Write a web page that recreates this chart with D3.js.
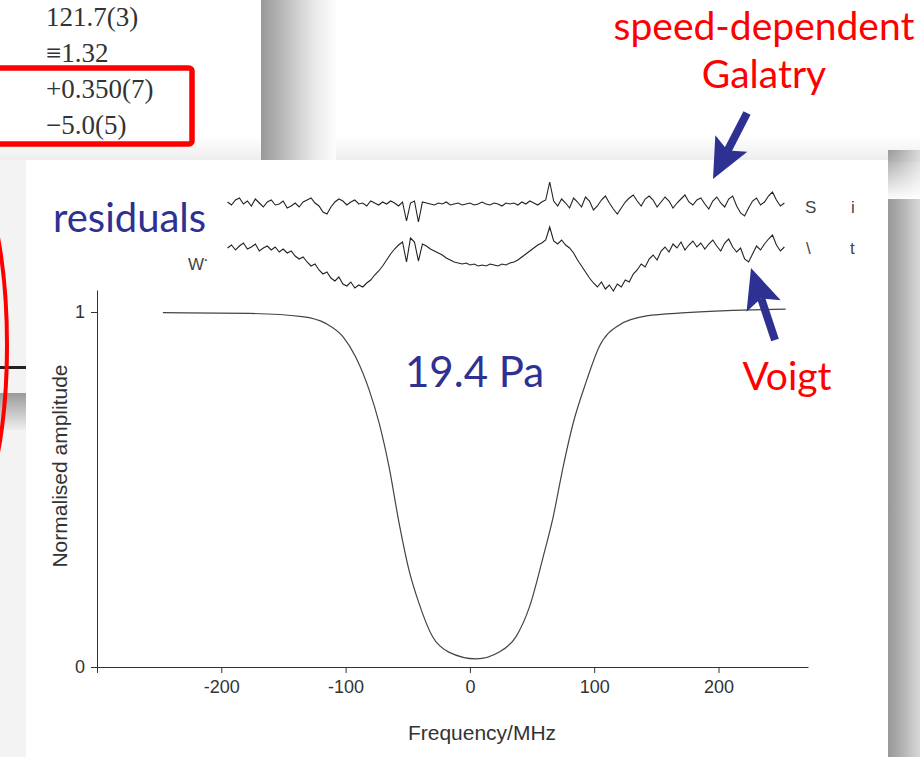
<!DOCTYPE html>
<html>
<head>
<meta charset="utf-8">
<script src="https://cdn.jsdelivr.net/npm/d3@7"></script>
<style>
  body { margin: 0; background: #fff; }
  svg { display: block; }
</style>
</head>
<body>
<div id="chart"></div>
<script>
// absorption profile (MHz, normalised amplitude)
var profileFreq = [-247, -177, -135, -116, -102, -92, -81, -73, -65, -57, -49, -41, -30, -17, 5,
                   24, 37, 48, 59, 67, 75, 83, 94, 104, 120, 142, 174, 227, 254];
var profileAmp  = [0.998, 0.996, 0.987, 0.968, 0.930, 0.874, 0.780, 0.687, 0.563, 0.406, 0.273, 0.180, 0.085, 0.042, 0.023,
                   0.043, 0.085, 0.170, 0.311, 0.423, 0.564, 0.686, 0.808, 0.902, 0.963, 0.989, 0.998, 1.006, 1.008];

// residuals (arbitrary units), one sample every 3.2 MHz starting at -195 MHz
var residStart = -195, residStep = 3.2;
var residSDG = [2, -1, 4, 6, 0, 3, -2, 5, 1, -3, 2, 4, -1, 0, 3, -4, -2, 1, -3, 2,
                4, 6, 1, -2, -8, -10, -3, 2, 5, 3, -1, 2, 4, 0, 1, -2, 3, 1, -1, 2,
                0, 3, 1, -2, 2, -17, 1, 3, -18, 2, 1, 0, -1, 1, 0, 2, -1, 0, 1, -1,
                0, 1, -1, 0, 2, 0, -1, 1, 0, -2, 1, 0, 1, -1, 2, 0, 3, 1, -1, 2,
                4, 22, 3, -2, 5, 1, -4, 6, 2, -3, 7, 3, -6, -2, 4, 8, 1, -5, -10, -4,
                2, 6, 9, 3, -2, 5, 8, 4, -3, 2, 7, 3, -4, 1, 5, 9, 2, -1, 4, 6,
                0, -5, 3, 7, 1, -3, 5, 8, -2, -9, -12, -4, 3, 6, -1, 2, 8, 12, 4, -2,
                1];
var residVoigt = [8, 11, 6, 10, 13, 7, 9, 12, 5, 8, 10, 6, 9, 4, 7, 3, 5, 0, -3, -1,
                  -6, -10, -8, -14, -18, -16, -22, -25, -21, -28, -30, -26, -32, -29, -31, -27, -24, -19, -15, -10,
                  -4, 2, 7, 11, 14, -6, 18, 14, -5, 12, 10, 7, 5, 3, 1, -2, -4, -6, -7, -8,
                  -7, -9, -8, -10, -9, -10, -8, -9, -10, -8, -9, -7, -6, -4, -1, 2, 5, 8, 11, 13,
                  16, 29, 15, 12, 16, 11, 8, 3, -4, -10, -16, -22, -27, -31, -26, -33, -29, -35, -28, -31,
                  -24, -26, -18, -14, -8, -11, -3, 1, -4, 5, 9, 4, 12, 8, 14, 6, 11, 15, 9, 13,
                  7, 12, 16, 10, 5, 13, 17, 9, 4, 8, -3, -6, 2, 10, 6, 12, 17, 21, 11, 5,
                  9];

var xTicks = [-300, -200, -100, 0, 100, 200];
var yTicks = [0, 1];

// table values shown in the slide corner
var tableRows = ["121.7(3)", "\u22611.32", "+0.350(7)", "\u22125.0(5)"];

var W = 920, H = 757;
var navy = "#2e3192", red = "#ff0000", ink = "#333";

var svg = d3.select("#chart").append("svg")
    .attr("width", W)
    .attr("height", H);

var defs = svg.append("defs");
function grad(id, stops, vertical) {
  var g = defs.append("linearGradient").attr("id", id)
      .attr("x1", 0).attr("y1", 0)
      .attr("x2", vertical ? 0 : 1).attr("y2", vertical ? 1 : 0);
  stops.forEach(function(s) {
    g.append("stop").attr("offset", s[0]).attr("stop-color", s[1]);
  });
}
grad("shadowR", [[0, "#989898"], [0.25, "#b4b4b4"], [0.5, "#d2d2d2"], [0.75, "#ececec"], [1, "#fdfdfd"]]);
grad("shadowR2", [[0, "#999"], [0.35, "#acacac"], [0.7, "#c4c4c4"], [1, "#d8d8d8"]]);
grad("shadowTop", [[0, "#ffffff"], [1, "#ececec"]], true);
grad("shadowFade", [[0, "#ffffff"], [1, "#000000"]], true);
grad("shadowBand", [[0, "#9a9a9a"], [1, "#eeeeee"]], true);
var mask = defs.append("mask").attr("id", "fadeMask");
mask.append("rect").attr("x", 888).attr("y", 150).attr("width", 32).attr("height", 50)
    .attr("fill", "url(#shadowFade)");

// slide background pieces
svg.append("rect").attr("width", W).attr("height", H).attr("fill", "#fff");
svg.append("rect").attr("x", 0).attr("y", 136).attr("width", 920).attr("height", 26)
    .attr("fill", "url(#shadowTop)");
svg.append("rect").attr("x", 261).attr("y", 0).attr("width", 75).attr("height", 162)
    .attr("fill", "url(#shadowR)");
svg.append("rect").attr("x", 0).attr("y", 160).attr("width", 26).attr("height", H - 160)
    .attr("fill", "#f3f3f3");
svg.append("rect").attr("x", 0).attr("y", 393).attr("width", 26).attr("height", 37)
    .attr("fill", "url(#shadowBand)");
svg.append("rect").attr("x", 0).attr("y", 366).attr("width", 26).attr("height", 3)
    .attr("fill", "#222");
// right-hand shadow of the chart panel, fading in at the top corner
var rightShadow = svg.append("g");
rightShadow.append("rect").attr("x", 888).attr("y", 150).attr("width", 32).attr("height", 50)
    .attr("fill", "url(#shadowR2)").attr("mask", "url(#fadeMask)");
rightShadow.append("rect").attr("x", 888).attr("y", 199).attr("width", 32).attr("height", H - 199)
    .attr("fill", "url(#shadowR2)");

// table fragment
var tableY = [26, 62, 98, 134];
svg.selectAll(".trow").data(tableRows).enter().append("text")
    .attr("class", "trow")
    .attr("x", 46)
    .attr("y", function(d, i) { return tableY[i]; })
    .attr("font-family", "Liberation Serif, serif")
    .attr("font-size", 27)
    .attr("fill", "#333")
    .text(function(d) { return d; });
svg.append("rect").attr("x", -10).attr("y", 68).attr("width", 202).attr("height", 76)
    .attr("rx", 3).attr("fill", "none").attr("stroke", red).attr("stroke-width", 5.5);

// red ellipse at far left
svg.append("ellipse").attr("cx", -60).attr("cy", 345).attr("rx", 67).attr("ry", 213)
    .attr("fill", "none").attr("stroke", red).attr("stroke-width", 4);

// chart panel
svg.append("rect").attr("x", 26).attr("y", 160).attr("width", 862).attr("height", H - 160)
    .attr("fill", "#fff");

var x = d3.scaleLinear().domain([-300, 272]).range([97, 808]);
var y = d3.scaleLinear().domain([0, 1.062]).range([667, 290]);

var xAxis = svg.append("g")
    .attr("transform", "translate(0," + y(0) + ")")
    .call(d3.axisBottom(x).tickValues(xTicks).tickSize(6).tickSizeOuter(0).tickPadding(7)
      .tickFormat(function(d) { return d === -300 ? "" : d; }));
var yAxis = svg.append("g")
    .attr("transform", "translate(" + x(-300) + ",0)")
    .call(d3.axisLeft(y).tickValues(yTicks).tickSize(6).tickSizeOuter(0).tickPadding(6)
      .tickFormat(d3.format("d")));

[xAxis, yAxis].forEach(function(a) {
  a.selectAll("path, line").attr("stroke", ink).attr("stroke-width", 1);
  a.selectAll("text").attr("font-family", "Liberation Sans, Arial, sans-serif")
      .attr("font-size", 18).attr("fill", ink);
});

svg.append("text")
    .attr("x", 482).attr("y", 740)
    .attr("text-anchor", "middle")
    .attr("font-family", "Liberation Sans, Arial, sans-serif")
    .attr("font-size", 21).attr("fill", ink)
    .text("Frequency/MHz");
svg.append("text")
    .attr("transform", "translate(67,466) rotate(-90)")
    .attr("text-anchor", "middle")
    .attr("font-family", "Liberation Sans, Arial, sans-serif")
    .attr("font-size", 21).attr("fill", ink)
    .text("Normalised amplitude");

// profile line
var profile = profileFreq.map(function(f, i) { return [f, profileAmp[i]]; });
svg.append("path")
    .datum(profile)
    .attr("fill", "none")
    .attr("stroke", "#444")
    .attr("stroke-width", 1.2)
    .attr("d", d3.line()
      .x(function(d) { return x(d[0]); })
      .y(function(d) { return y(d[1]); })
      .curve(d3.curveMonotoneX));

// residual traces
var r = d3.scaleLinear().domain([-40, 40]).range([40, -40]);
function residLine(vals, yMid) {
  var pts = vals.map(function(v, i) { return [residStart + i * residStep, v]; });
  svg.append("path")
      .datum(pts)
      .attr("transform", "translate(0," + yMid + ")")
      .attr("fill", "none")
      .attr("stroke", "#222")
      .attr("stroke-width", 1.1)
      .attr("d", d3.line()
        .x(function(d) { return x(d[0]); })
        .y(function(d) { return r(d[1]); }));
}
residLine(residSDG, 204);
residLine(residVoigt, 256);

// leftover label fragments from the original figure
var frag = [["S", 805, 213], ["i", 851, 213], ["\\", 806, 254], ["t", 850, 254], ["W", 188, 270], ["\u00b7", 203, 265]];
svg.selectAll(".frag").data(frag).enter().append("text")
    .attr("class", "frag")
    .attr("x", function(d) { return d[1]; })
    .attr("y", function(d) { return d[2]; })
    .attr("font-family", "Liberation Sans, Arial, sans-serif")
    .attr("font-size", 17).attr("fill", "#444")
    .text(function(d) { return d[0]; });

// slide annotations
function label(txt, xx, yy, size, col, anchor) {
  svg.append("text").attr("x", xx).attr("y", yy)
      .attr("text-anchor", anchor || "start")
      .attr("font-family", "Lato, 'Open Sans', sans-serif")
      .attr("font-size", size).attr("fill", col)
      .text(txt);
}
label("residuals", 53, 232, 40, navy);
label("19.4 Pa", 405, 387, 42, navy);
label("speed-dependent", 764, 40, 39, red, "middle");
label("Galatry", 764, 88, 39, red, "middle");
label("Voigt", 787, 390, 39, red, "middle");

function arrow(x0, y0, x1, y1) {
  var dx = x1 - x0, dy = y1 - y0, len = Math.sqrt(dx * dx + dy * dy);
  var ux = dx / len, uy = dy / len, px = -uy, py = ux;
  var head = 40, half = 18;
  var bx = x1 - ux * head, by = y1 - uy * head;
  svg.append("line").attr("x1", x0).attr("y1", y0).attr("x2", bx + ux * 8).attr("y2", by + uy * 8)
      .attr("stroke", navy).attr("stroke-width", 8);
  svg.append("path")
      .attr("d", "M" + x1 + "," + y1 +
                 "L" + (bx + px * half) + "," + (by + py * half) +
                 "L" + (bx + ux * 8) + "," + (by + uy * 8) +
                 "L" + (bx - px * half) + "," + (by - py * half) + "Z")
      .attr("fill", navy);
}
arrow(747, 113, 713, 179);
arrow(775, 340, 751, 268);
</script>
</body>
</html>
